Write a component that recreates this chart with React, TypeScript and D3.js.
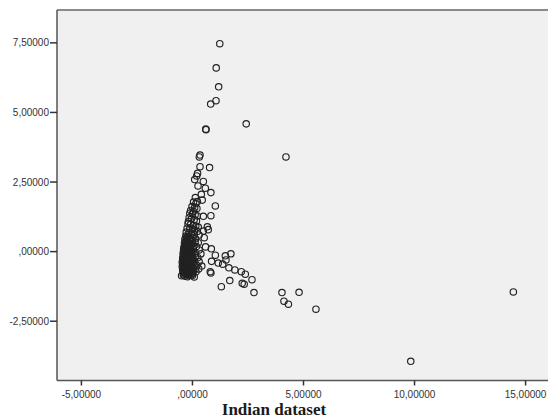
import * as d3 from 'd3';

const svgWidth = 548,
	svgHeight = 420;

const margin = { left: 57, right: 0, top: 10, bottom: 39.5 };

const xTicks = [-5, 0, 5, 10, 15];
const yTicks = [-2.5, 0, 2.5, 5, 7.5];
const xTitle = 'Indian dataset';

// the upward arm above the cluster
const upperArm: [number, number][] = [
	[1.23, 7.47], [1.07, 6.6], [1.18, 5.92], [1.06, 5.42], [0.82, 5.3],
	[0.61, 4.38], [0.6, 4.4], [2.42, 4.59], [0.34, 3.47], [0.31, 3.4],
	[4.21, 3.4], [0.34, 3.05], [0.77, 3.02], [0.23, 2.81], [0.19, 2.72],
	[0.1, 2.59], [0.49, 2.52], [0.25, 2.36], [0.58, 2.28], [0.83, 2.12],
	[0.13, 1.94], [0.4, 2.06], [0.44, 1.85], [1.03, 1.64], [0.83, 1.29],
	[0.49, 1.27], [0.67, 0.89], [0.71, 0.79], [0.49, 0.74], [0.53, 0.5],
	[0.59, 0.17], [0.85, 0.1],
];

// the tail going down to the right
const lowerArm: [number, number][] = [
	[1.48, -0.15], [1.73, -0.08], [1.03, -0.13], [0.86, -0.35], [1.16, -0.41],
	[1.51, -0.3], [1.36, -0.45], [1.64, -0.58], [1.91, -0.66], [2.2, -0.72],
	[2.38, -0.81], [0.8, -0.72], [0.83, -0.77], [2.68, -1.01], [1.68, -1.04],
	[1.3, -1.26], [2.24, -1.14], [2.33, -1.17], [2.77, -1.47], [4.03, -1.47],
	[4.8, -1.46], [4.12, -1.78], [4.32, -1.89], [5.56, -2.07], [14.45, -1.45],
	[9.83, -3.94], [0.08, -0.91], [-0.49, -0.87], [-0.16, -0.84],
];

// dense cluster near the origin
const core: [number, number][] = [
	[0.05, 1.78], [0.15, 1.72], [0.22, 1.8], [-0.02, 1.62], [0.1, 1.58], [0.2, 1.55],
	[-0.08, 1.48], [0.04, 1.45], [-0.12, 1.38], [0.0, 1.35], [0.12, 1.32], [0.22, 1.28],
	[-0.15, 1.22], [-0.05, 1.18], [0.08, 1.15], [0.18, 1.1], [-0.18, 1.08], [-0.2, 1.0],
	[-0.08, 0.98], [0.05, 0.95], [0.15, 0.92], [0.26, 0.88], [-0.24, 0.84], [-0.12, 0.82],
	[0.0, 0.8], [0.1, 0.78], [0.22, 0.72], [-0.28, 0.7], [-0.16, 0.68], [-0.04, 0.66],
	[0.08, 0.62], [0.3, 0.6], [-0.3, 0.56], [-0.2, 0.54], [-0.1, 0.52], [0.02, 0.5],
	[0.14, 0.46], [-0.34, 0.44], [-0.24, 0.42], [-0.12, 0.4], [0.0, 0.38], [0.12, 0.34],
	[0.26, 0.32], [-0.36, 0.3], [-0.26, 0.28], [-0.16, 0.26], [-0.06, 0.22], [0.06, 0.2],
	[0.18, 0.18], [-0.38, 0.16], [-0.28, 0.14], [-0.18, 0.12], [-0.08, 0.1], [0.04, 0.08],
	[0.3, 0.06], [-0.4, 0.04], [-0.3, 0.02], [-0.2, 0.0], [-0.1, -0.02], [0.02, -0.04],
	[0.14, -0.06], [0.38, -0.08], [-0.42, -0.1], [-0.32, -0.12], [-0.22, -0.14], [-0.12, -0.16],
	[0.0, -0.18], [0.12, -0.2], [0.24, -0.22], [-0.44, -0.24], [-0.34, -0.26], [-0.24, -0.28],
	[-0.14, -0.3], [-0.02, -0.32], [0.1, -0.34], [0.3, -0.36], [-0.46, -0.38], [-0.36, -0.4],
	[-0.26, -0.42], [-0.16, -0.44], [-0.04, -0.46], [0.08, -0.48], [0.2, -0.5], [0.42, -0.52],
	[-0.46, -0.54], [-0.36, -0.56], [-0.26, -0.58], [-0.14, -0.6], [-0.02, -0.62], [0.12, -0.64],
	[0.28, -0.62], [-0.44, -0.68], [-0.34, -0.7], [-0.22, -0.72], [-0.1, -0.74], [0.02, -0.76],
	[0.16, -0.72], [-0.4, -0.8], [-0.28, -0.82], [-0.16, -0.84], [-0.04, -0.8], [-0.34, -0.88],
	[-0.22, -0.9], [0.0, -0.86],
];

// the solid lower-left part of the cluster
const coreDense: [number, number][] = [
	[-0.41, -0.84], [-0.36, -0.76], [-0.3, -0.78], [-0.24, -0.8], [-0.18, -0.77], [-0.12, -0.8],
	[-0.06, -0.84], [-0.42, -0.72], [-0.38, -0.64], [-0.31, -0.66], [-0.25, -0.66], [-0.19, -0.68],
	[-0.13, -0.7], [-0.07, -0.68], [-0.01, -0.7], [0.05, -0.69], [-0.43, -0.6], [-0.39, -0.5],
	[-0.33, -0.52], [-0.27, -0.52], [-0.2, -0.54], [-0.1, -0.56], [-0.05, -0.54], [0.02, -0.57],
	[-0.44, -0.46], [-0.41, -0.36], [-0.34, -0.36], [-0.29, -0.34], [-0.22, -0.38], [-0.16, -0.36],
	[-0.09, -0.4], [-0.03, -0.38], [0.04, -0.4], [-0.43, -0.3], [-0.4, -0.2], [-0.35, -0.2],
	[-0.28, -0.2], [-0.2, -0.22], [-0.15, -0.22], [-0.07, -0.24], [0.02, -0.26], [-0.41, -0.04],
	[-0.36, -0.06], [-0.3, -0.08], [-0.25, -0.06], [-0.17, -0.08], [-0.1, -0.1], [-0.04, -0.08],
	[-0.39, 0.1], [-0.33, 0.08], [-0.26, 0.06], [-0.22, 0.08], [-0.14, 0.04], [-0.05, 0.03],
	[-0.35, 0.22], [-0.3, 0.2], [-0.21, 0.2], [-0.12, 0.18], [-0.32, 0.36], [-0.28, 0.34],
	[-0.19, 0.32], [-0.09, 0.3], [-0.27, 0.5], [-0.22, 0.48], [-0.14, 0.46], [-0.06, 0.44],
];

const fmt = (v: number) => {
	const s = Math.abs(v).toFixed(5).replace('.', ',').replace(/^0/, '');
	return (v < 0 ? '-' : '') + s;
};

export default function App() {
	const innerWidth = svgWidth - margin.left - margin.right;
	const innerHeight = svgHeight - margin.top - margin.bottom;

	const xScale = d3.scaleLinear().domain([-6.1, 16.01]).range([0, innerWidth]);
	const yScale = d3.scaleLinear().domain([-4.63, 8.68]).range([innerHeight, 0]);

	const points = [...upperArm, ...lowerArm, ...core, ...coreDense];

	return (
		<svg
			width={svgWidth}
			height={svgHeight}
			viewBox={`0 0 ${svgWidth} ${svgHeight}`}
			style={{ position: 'absolute', left: 0, top: 0, background: 'white' }}
		>
			<g transform={`translate(${margin.left}, ${margin.top})`}>
				<rect width={innerWidth} height={innerHeight} fill="#f0f0f0" />
				<line x1={0} x2={innerWidth} y1={0} y2={0} stroke="#8a8a8a" strokeWidth={2} />

				{/* points */}
				<g fill="none" stroke="#222" strokeWidth={1.15}>
					{points.map((d, i) => (
						<circle key={i} cx={xScale(d[0])} cy={yScale(d[1])} r={3.2} />
					))}
				</g>

				{/* left axis */}
				<g>
					<line x1={0} x2={0} y1={0} y2={innerHeight} stroke="#555" strokeWidth={1.5} />
					{yTicks.map((t) => (
						<g key={t} transform={`translate(0, ${yScale(t)})`}>
							<line x1={-7} x2={0} stroke="#333" strokeWidth={1.5} />
							<text
								x={-8}
								textAnchor="end"
								dominantBaseline="central"
								fontFamily="Liberation Sans, Arial, sans-serif"
								fontSize={10}
								fill="#333"
							>
								{fmt(t)}
							</text>
						</g>
					))}
				</g>

				{/* bottom axis */}
				<g transform={`translate(0, ${innerHeight})`}>
					<line x1={0} x2={innerWidth} stroke="#555" strokeWidth={1.5} />
					{xTicks.map((t) => (
						<g key={t} transform={`translate(${xScale(t)}, 0)`}>
							<line y1={0} y2={5} stroke="#333" strokeWidth={1.5} />
							<text
								y={17}
								textAnchor="middle"
								fontFamily="Liberation Sans, Arial, sans-serif"
								fontSize={10}
								fill="#333"
							>
								{fmt(t)}
							</text>
						</g>
					))}
				</g>
			</g>
			<text
				x={svgWidth / 2}
				y={415}
				textAnchor="middle"
				fontFamily="Liberation Serif, Times New Roman, serif"
				fontWeight="bold"
				fontSize={17}
				fill="#1a1a1a"
			>
				{xTitle}
			</text>
		</svg>
	);
}
